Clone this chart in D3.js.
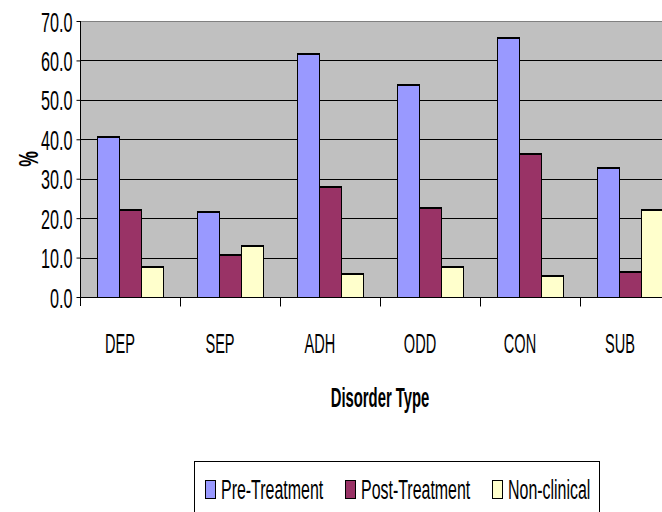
<!DOCTYPE html>
<html><head><meta charset="utf-8">
<script src="https://cdn.jsdelivr.net/npm/d3@7"></script>
<style>body{margin:0;background:#fff}svg{display:block}</style>
</head><body>
<svg id="c" width="662" height="512"></svg>
<script>
const categories = ["DEP","SEP","ADH","ODD","CON","SUB"];
const seriesNames = ["Pre-Treatment","Post-Treatment","Non-clinical"];
const preTreatment  = [40.6, 21.5, 61.6, 53.8, 65.7, 32.8];
const postTreatment = [22.0, 10.6, 28.0, 22.6, 36.3, 6.3];
const nonClinical   = [7.6, 13.0, 5.8, 7.6, 5.2, 22.0];
const yTicks = [0,10,20,30,40,50,60,70];
const colors = ["#9999FF","#993366","#FFFFCC"];
const seriesValues = [preTreatment, postTreatment, nonClinical];

const svg = d3.select("#c");
const font = "'Liberation Sans', Arial, sans-serif";

const x0 = d3.scaleBand().domain(categories).range([80,680]).paddingInner(0).paddingOuter(0);
const x1 = d3.scaleBand().domain(seriesNames).range([0, x0.bandwidth()]).paddingInner(0).paddingOuter(0.75);
const y = d3.scaleLinear().domain([0,70]).range([297,21]);

// plot background
svg.append("rect").attr("x",80).attr("y",y(70)).attr("width",600).attr("height",y(0)-y(70)).attr("fill","#C0C0C0");

// gridlines
svg.append("g").selectAll("line").data(yTicks.filter(d=>d>0)).join("line")
  .attr("x1",80).attr("x2",680).attr("y1",d=>Math.round(y(d))+0.5).attr("y2",d=>Math.round(y(d))+0.5)
  .attr("stroke",d=>d===70?"#808080":"#000").attr("stroke-width",1);

// bars
const data = [];
categories.forEach((c,i)=>seriesNames.forEach((s,j)=>data.push({c,s,j,v:seriesValues[j][i]})));
const bars = svg.append("g");
bars.selectAll("rect").data(data).join("rect")
  .attr("x",d=>Math.round(x0(d.c)+x1(d.s))+0.5)
  .attr("y",d=>Math.round(y(d.v))+0.5)
  .attr("width",d=>Math.round(x1.bandwidth()))
  .attr("height",d=>Math.round(y(0))-Math.round(y(d.v)))
  .attr("fill",d=>colors[d.j]).attr("stroke","#000").attr("stroke-width",1);
bars.selectAll("line").data(data).join("line")
  .attr("x1",d=>Math.round(x0(d.c)+x1(d.s)))
  .attr("x2",d=>Math.round(x0(d.c)+x1(d.s))+Math.round(x1.bandwidth())+1)
  .attr("y1",d=>Math.round(y(d.v))).attr("y2",d=>Math.round(y(d.v)))
  .attr("stroke","#000").attr("stroke-width",2);

// y axis
const yAxis = svg.append("g").attr("transform","translate(80.5,0)")
  .call(d3.axisLeft(y).tickValues(yTicks).tickSize(4).tickPadding(0).tickFormat(d3.format(".1f")));
yAxis.select(".domain").attr("stroke","#000").attr("d","M0,"+y(70)+"V"+(y(0)+9));
yAxis.selectAll(".tick line").attr("stroke","#000");
yAxis.selectAll(".tick text")
  .attr("x",0).attr("dy",null).attr("y",10)
  .attr("transform","translate(-8,0) scale(0.6,1)")
  .attr("font-family",font).attr("font-size",27).attr("fill","#000").attr("text-anchor","end");

// x axis
const xAxis = svg.append("g").attr("transform","translate(0,"+(Math.round(y(0))+0.5)+")");
xAxis.append("line").attr("x1",80).attr("x2",680).attr("stroke","#000");
xAxis.selectAll("line.t").data(categories.slice(1)).join("line").attr("class","t")
  .attr("x1",d=>Math.round(x0(d))+0.5).attr("x2",d=>Math.round(x0(d))+0.5).attr("y1",0).attr("y2",9).attr("stroke","#000");
xAxis.selectAll("text").data(categories).join("text")
  .attr("transform",d=>"translate("+(x0(d)+x0.bandwidth()/2-10)+",55) scale(0.54,1)")
  .attr("text-anchor","middle").attr("font-family",font).attr("font-size",27).attr("fill","#000").text(d=>d);

// axis titles
svg.append("text").attr("transform","translate(380,407) scale(0.53,1)")
  .attr("text-anchor","middle").attr("font-family",font).attr("font-size",28).attr("font-weight","bold").text("Disorder Type");
svg.append("text").attr("transform","translate(38,159) rotate(-90) scale(0.65,1)")
  .attr("text-anchor","middle").attr("font-family",font).attr("font-size",27).attr("font-weight","bold").text("%");

// legend
const lg = svg.append("g");
lg.append("rect").attr("x",194.5).attr("y",461.5).attr("width",405).attr("height",60).attr("fill","#fff").attr("stroke","#000");
const legX = [205,345,492];
const items = lg.selectAll("g").data(seriesNames).join("g").attr("transform",(d,i)=>"translate("+legX[i]+",0)");
items.append("rect").attr("x",0.5).attr("y",480.5).attr("width",10).attr("height",18)
  .attr("fill",(d,i)=>colors[i]).attr("stroke","#000");
items.append("text").attr("transform","translate(16,499) scale(0.57,1)")
  .attr("font-family",font).attr("font-size",28).attr("fill","#000").text(d=>d);
</script>
</body></html>
